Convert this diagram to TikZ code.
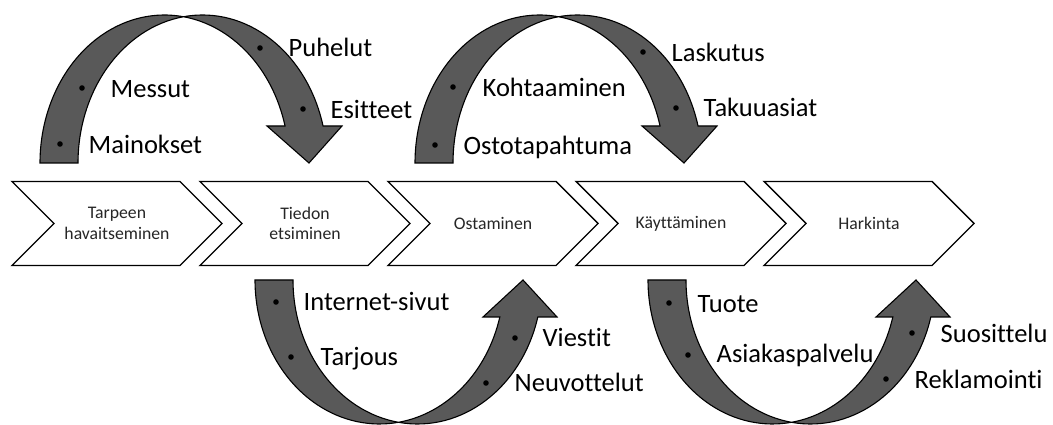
\documentclass[tikz,border=0pt]{standalone}
\usepackage{fontspec}
\setmainfont{Carlito}[Ligatures={NoCommon}]
\definecolor{bandgray}{HTML}{595959}
\definecolor{stagetext}{HTML}{262626}
\begin{document}
\begin{tikzpicture}[x=1pt,y=1pt,
  chev/.style={draw=black, line width=1.4pt, fill=white, line join=miter},
  band/.style={draw=black, line width=1.1pt, fill=bandgray, line join=miter},
  bullet/.style={circle, fill=black, inner sep=0pt, minimum size=5.6pt},
  item/.style={anchor=base west, inner sep=0pt, font=\fontsize{26.5}{30}\selectfont},
  stage/.style={align=center, inner sep=0pt, font=\fontsize{17.7}{20.5}\selectfont, text=stagetext},
  % ribbon arrow bending over the top, head pointing down
  curvedown/.pic={
    \path[band] (0,0)
      arc[start angle=180, end angle=81.22, x radius=124.5, y radius=148]
      arc[start angle=98.78, end angle=14.48, x radius=124.5, y radius=148]
      -- (302,37) -- (269,0) -- (227,37) -- (245.05,37)
      arc[start angle=14.48, end angle=81.22, x radius=124.5, y radius=148]
      arc[start angle=98.78, end angle=180, x radius=124.5, y radius=148]
      -- cycle;
  },
  % ribbon arrow bending under the bottom, head pointing up
  curveup/.pic={
    \path[band] (0,0)
      arc[start angle=180, end angle=278.78, x radius=124.5, y radius=144]
      arc[start angle=261.22, end angle=345.11, x radius=124.5, y radius=144]
      -- (302,-37) -- (268,0) -- (228,-37) -- (244.82,-37)
      arc[start angle=345.11, end angle=278.78, x radius=124.5, y radius=144]
      arc[start angle=261.22, end angle=180, x radius=124.5, y radius=144]
      -- cycle;
  }]
\useasboundingbox (0,0) rectangle (1053,425);

% process chevrons
\foreach \s in {12,200,388,576,764}
  \draw[chev] (\s,243.5) -- ++(168,0) -- ++(42,-42) -- ++(-42,-42)
    -- ++(-168,0) -- ++(42,42) -- cycle;
\node[stage] (s1) at (117,201.5) {Tarpeen\\havaitseminen};
\node[stage] (s2) at (305,201.5) {Tiedon\\etsiminen};
\node[stage] (s3) at (493,201.5) {Ostaminen};
\node[stage] (s4) at (681,201.5) {Käyttäminen};
\node[stage] (s5) at (869,201.5) {Harkinta};

% curved arrows
\pic at (40,262) {curvedown};
\pic at (415,262) {curvedown};
\pic at (255,145) {curveup};
\pic at (648,145) {curveup};

% bullets on the arrows
\node[bullet] (b1) at (60,281) {};
\node[bullet] (b2) at (82,337) {};
\node[bullet] (b3) at (260,377) {};
\node[bullet] (b4) at (303,316) {};
\node[bullet] (b5) at (643,373) {};
\node[bullet] (b6) at (453,338) {};
\node[bullet] (b7) at (676,317) {};
\node[bullet] (b8) at (435,280) {};
\node[bullet] (b9) at (276,123) {};
\node[bullet] (b10) at (291,68) {};
\node[bullet] (b11) at (515,87) {};
\node[bullet] (b12) at (486,42) {};
\node[bullet] (b13) at (669,122) {};
\node[bullet] (b14) at (688,70) {};
\node[bullet] (b15) at (912,92) {};
\node[bullet] (b16) at (886,46) {};

% bullet texts
\node[item] (t1) at (88.5,271) {Mainokset};
\node[item] (t2) at (110.5,327) {Messut};
\node[item] (t3) at (288.5,368) {Puhelut};
\node[item] (t4) at (330.5,306) {Esitteet};
\node[item] (t5) at (671.5,363) {Laskutus};
\node[item] (t6) at (482.5,328) {Kohtaaminen};
\node[item] (t7) at (703.5,308) {Takuuasiat};
\node[item] (t8) at (463.5,270) {Ostotapahtuma};
\node[item] (t9) at (303.5,114) {Internet-sivut};
\node[item] (t10) at (320.5,59) {Tarjous};
\node[item] (t11) at (542.5,78) {Viestit};
\node[item] (t12) at (514.5,33) {Neuvottelut};
\node[item] (t13) at (697.5,112) {Tuote};
\node[item] (t14) at (716.5,62) {Asiakaspalvelu};
\node[item] (t15) at (940.5,82) {Suosittelu};
\node[item] (t16) at (914.5,36) {Reklamointi};
\end{tikzpicture}
\end{document}
